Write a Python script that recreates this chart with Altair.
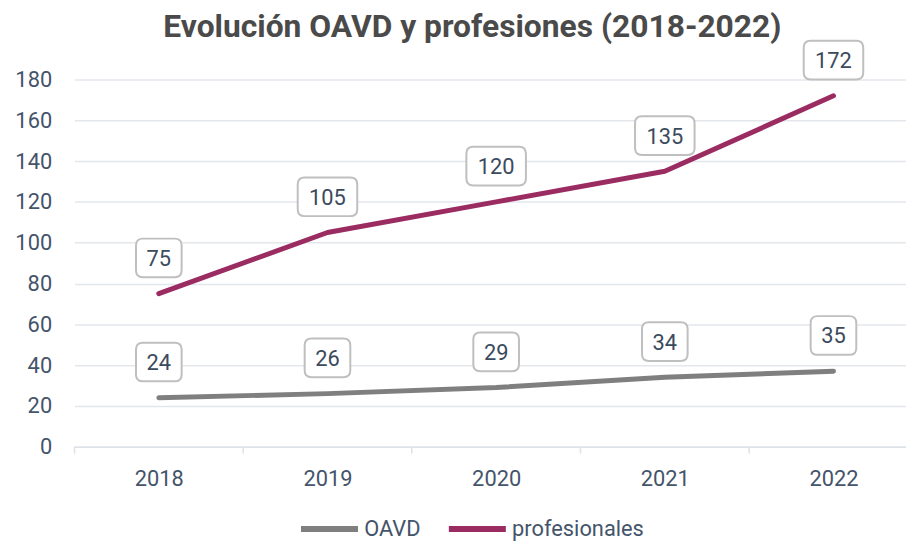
import altair as alt
import pandas as pd

years = [2018, 2019, 2020, 2021, 2022]
series = ["OAVD", "profesionales"]
oavd_values = [24, 26, 29, 34, 37]
oavd_labels = ["24", "26", "29", "34", "35"]
prof_values = [75, 105, 120, 135, 172]
prof_labels = ["75", "105", "120", "135", "172"]
y_ticks = [0, 20, 40, 60, 80, 100, 120, 140, 160, 180]
x_bounds = [2017.5, 2018.5, 2019.5, 2020.5, 2021.5]
colors = ["#7F7F7F", "#9B2C62"]

rows = []
for s, vals, labs in [("OAVD", oavd_values, oavd_labels), ("profesionales", prof_values, prof_labels)]:
    for y, v, l in zip(years, vals, labs):
        rows.append({"year": y, "serie": s, "value": v, "label": l, "nd": str(len(l))})
df = pd.DataFrame(rows)
bounds = pd.DataFrame({"b": x_bounds})

def rrect(w, h, r):
    a, b = w / 2, h / 2
    return (f"M {-a + r} {-b} H {a - r} Q {a} {-b} {a} {-b + r} V {b - r} Q {a} {b} {a - r} {b} "
            f"H {-a + r} Q {-a} {b} {-a} {b - r} V {-b + r} Q {-a} {-b} {-a + r} {-b} Z")

box2 = rrect(46, 39, 7)
box3 = rrect(60, 39, 7)

FONT = "Roboto"
TXT = "#44546A"

xscale = alt.Scale(domain=[2017.5, 2022.43], nice=False, zero=False)
yscale = alt.Scale(domain=[0, 180], nice=False)

base = alt.Chart(df)

lines = base.mark_line(strokeWidth=5, strokeCap="round", strokeJoin="round").encode(
    x=alt.X("year:Q", scale=xscale,
            axis=alt.Axis(values=years, format="d", title=None, grid=False, ticks=False,
                          domainColor="#DDE2E8", domainWidth=1.5, labelFontSize=22,
                          labelFont=FONT, labelColor=TXT, labelPadding=22)),
    y=alt.Y("value:Q", scale=yscale,
            axis=alt.Axis(values=y_ticks, title=None, ticks=False, domain=False,
                          gridColor="#E3E7EC", gridWidth=1.5, labelFontSize=22,
                          labelFont=FONT, labelColor=TXT, labelPadding=23)),
    color=alt.Color("serie:N", scale=alt.Scale(domain=series, range=colors),
                    legend=alt.Legend(title=None, orient="none", legendX=225, legendY=421,
                                      direction="horizontal", symbolType="stroke",
                                      symbolStrokeWidth=6, symbolSize=3300,
                                      labelFont=FONT, labelFontSize=22, labelColor=TXT,
                                      labelOffset=3, columnPadding=16)),
)

ticks = alt.Chart(bounds).mark_rule(color="#DDE2E8", strokeWidth=1.5).encode(
    x=alt.X("b:Q", scale=xscale),
    y=alt.value(370),
    y2=alt.value(377),
)

boxes = base.mark_point(filled=True, fill="white", stroke="#BFBFBF", strokeWidth=2,
                        opacity=1, size=4, yOffset=-36).encode(
    x=alt.X("year:Q", scale=xscale),
    y=alt.Y("value:Q", scale=yscale),
    shape=alt.Shape("nd:N", scale=alt.Scale(domain=["2", "3"], range=[box2, box3]), legend=None),
)

texts = base.mark_text(font=FONT, fontSize=22, color="#3B4A5C", yOffset=-35,
                       baseline="middle", align="center").encode(
    x=alt.X("year:Q", scale=xscale),
    y=alt.Y("value:Q", scale=yscale),
    text="label:N",
)

chart = alt.layer(ticks, lines, boxes, texts).properties(
    width=838, height=370,
    autosize=alt.AutoSizeParams(type="none"),
    padding={"left": 67, "top": 70, "right": 0, "bottom": 95},
    title=alt.TitleParams("Evolución OAVD y profesiones (2018-2022)", font=FONT, fontSize=32,
                          fontWeight="bold", color="#4A4A4A", anchor="middle", offset=-7,
                          dx=-18, frame="group"),
).configure_view(stroke=None)

chart.save("out.html", embed_options={"renderer": "svg", "actions": False})
